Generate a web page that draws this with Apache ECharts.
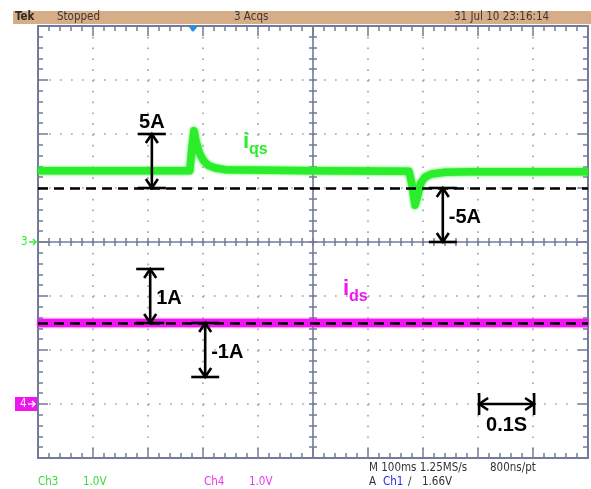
<!DOCTYPE html>
<html>
<head>
<meta charset="utf-8">
<script src="https://cdn.jsdelivr.net/npm/echarts@6/dist/echarts.min.js"></script>
<style>
  html, body { margin: 0; padding: 0; background: #fff; }
  #c { width: 591px; height: 489px; }
</style>
</head>
<body>
<div id="c"></div>
<script>
// ---- Channel 3 : i_qs  (time in s, current in A, 5 A/div, ground at centre) ----
const ch3Time = [0, 0.276, 0.280, 0.2836, 0.287, 0.293, 0.300, 0.309, 0.322, 0.340, 0.500,
                 0.6745, 0.680, 0.6855, 0.691, 0.6964, 0.7036, 0.716, 0.740, 0.785, 1.0];
const ch3Amps = [6.6, 6.6, 8.8, 10.3, 9.4, 8.3, 7.6, 7.1, 6.85, 6.7, 6.6,
                 6.55, 5.3, 3.4, 4.4, 5.5, 6.0, 6.3, 6.45, 6.5, 6.5];

// ---- Channel 4 : i_ds  (1 A/div, ground three divisions below centre) ----
const ch4Time = [0, 1.0];
const ch4Amps = [1.5, 1.5];

// dashed reference levels [A]
const ch3Ref = 5;
const ch4Ref = 1.5;

// dimension arrows: [time s, from A, to A, text]
const ch3Dims = [[0.207, 5, 10, '5A'], [0.736, 5, 0, '-5A']];
const ch4Dims = [[0.204, 1.5, 2.5, '1A'], [0.304, 1.5, 0.5, '-1A']];

// horizontal time-scale bar: [start s, end s, level (Ch3 A), text]
const timeBar = [[0.802, 0.902, -15, '0.1S']];

// trace names: [time s, level A, main, subscript]
const ch3Name = [[0.3727, 8.24, 'i', 'qs']];
const ch4Name = [[0.5545, 1.93, 'i', 'ds']];

// scope settings
const triggerTime = 0.282;
const ch3Ground = 0, ch4Ground = 0;
const statusTexts = ['Tek', 'Stopped', '3 Acqs', '31 Jul 10 23:16:14'];

const FRAME = '#737b9a';
const DOT = '#a0a4b6';
const GREEN = '#2ced2c';
const MAGENTA = '#f014f0';
const UI_FONT = '"DejaVu Sans Condensed", "Liberation Sans Narrow", sans-serif';
const ANNO_FONT = 'bold 20px "Liberation Sans", Arial, sans-serif';

const chart = echarts.init(document.getElementById('c'), null, { renderer: 'canvas' });

function axisParts(opts, dash) {
  return {
    axisLabel: { show: false },
    axisLine: { show: opts.line !== false, onZero: false, lineStyle: { color: FRAME, width: opts.lw || 2 } },
    axisTick: { show: true, inside: opts.inside, length: opts.major, lineStyle: { color: FRAME, width: 1.5 } },
    minorTick: { show: true, splitNumber: 5, length: opts.minor, lineStyle: { color: FRAME, width: 1.5 } },
    splitLine: opts.dots ? { show: true, lineStyle: { color: DOT, width: 1.7, type: dash } } : { show: false },
    minorSplitLine: { show: false }
  };
}
function xAxisDef(opts) {
  return Object.assign({ type: 'value', min: 0, max: 1, interval: 0.1,
    position: opts.position, offset: opts.offset || 0 }, axisParts(opts, [1.7, 9.1]));
}
function yAxisDef(opts) {
  return Object.assign({ type: 'value', min: -20, max: 20, interval: 5,
    position: opts.position, offset: opts.offset || 0 }, axisParts(opts, [1.7, 9.3]));
}

function line(x1, y1, x2, y2) {
  return { type: 'line', shape: { x1, y1, x2, y2 }, style: { stroke: '#000', lineWidth: 2.6 } };
}
function chevron(x, y, dx, dy) {
  // open arrow head with its tip at (x, y), opening along (dx, dy)
  const w = 6, l = 9;
  const pts = dx === 0
    ? [[x - w, y + dy * l], [x, y], [x + w, y + dy * l]]
    : [[x + dx * l, y - w], [x, y], [x + dx * l, y + w]];
  return { type: 'polyline', shape: { points: pts }, style: { stroke: '#000', lineWidth: 2.6, fill: null } };
}

function dimArrowRenderer(items, labelSide) {
  return function (params, api) {
    const d = items[params.dataIndex];
    const p = api.coord([api.value(0), api.value(1)]);
    const q = api.coord([api.value(0), api.value(2)]);
    const x = p[0];
    const dir = q[1] < p[1] ? -1 : 1;
    const half = 14;
    const children = [
      line(x, p[1], x, q[1]),
      line(x - half, p[1], x + half, p[1]),
      line(x - half, q[1], x + half, q[1]),
      chevron(x, q[1], 0, -dir),
      chevron(x, p[1], 0, dir)
    ];
    if (labelSide[params.dataIndex] === 'above') {
      const top = Math.min(p[1], q[1]);
      children.push({ type: 'text', style: { text: d[3], x: x, y: top - 2, font: ANNO_FONT, fill: '#000', align: 'center', verticalAlign: 'bottom' } });
    } else {
      children.push({ type: 'text', style: { text: d[3], x: x + 6, y: (p[1] + q[1]) / 2 + 2, font: ANNO_FONT, fill: '#000', align: 'left', verticalAlign: 'middle' } });
    }
    return { type: 'group', children };
  };
}

function timeBarRenderer(params, api) {
  const d = timeBar[params.dataIndex];
  const a = api.coord([api.value(0), api.value(2)]);
  const b = api.coord([api.value(1), api.value(2)]);
  const y = a[1];
  const half = 11;
  return {
    type: 'group',
    children: [
      line(a[0], y, b[0], y),
      line(a[0], y - half, a[0], y + half),
      line(b[0], y - half, b[0], y + half),
      chevron(a[0], y, 1, 0),
      chevron(b[0], y, -1, 0),
      { type: 'text', style: { text: d[3], x: (a[0] + b[0]) / 2, y: y + 21, font: ANNO_FONT, fill: '#000', align: 'center', verticalAlign: 'middle' } }
    ]
  };
}

function nameRenderer(items, color) {
  return function (params, api) {
    const d = items[params.dataIndex];
    const p = api.coord([api.value(0), api.value(1)]);
    return {
      type: 'group',
      children: [
        { type: 'text', style: { text: d[2], x: p[0], y: p[1], font: 'bold 22px "Liberation Sans", Arial, sans-serif', fill: color, align: 'left', verticalAlign: 'bottom' } },
        { type: 'text', style: { text: d[3], x: p[0] + 6, y: p[1] + 5, font: 'bold 16px "Liberation Sans", Arial, sans-serif', fill: color, align: 'left', verticalAlign: 'bottom' } }
      ]
    };
  };
}

const dashStyle = { color: '#000', width: 2.6, type: [10, 6] };

const option = {
  animation: false,
  backgroundColor: '#fff',
  grid: { left: 38, right: 3, top: 26, bottom: 31, outerBoundsMode: 'none', containLabel: false },
  xAxis: [
    xAxisDef({ position: 'bottom', inside: true, major: 10, minor: 5, dots: true }),
    xAxisDef({ position: 'top', inside: true, major: 10, minor: 5 }),
    xAxisDef({ position: 'bottom', offset: -216, inside: true, major: 4, minor: 4, lw: 1.6 }),
    xAxisDef({ position: 'bottom', offset: -216, inside: false, major: 4, minor: 4, line: false })
  ],
  yAxis: [
    yAxisDef({ position: 'left', inside: true, major: 10, minor: 5, dots: true }),
    yAxisDef({ position: 'right', inside: true, major: 10, minor: 5 }),
    yAxisDef({ position: 'left', offset: -275, inside: true, major: 4, minor: 4, lw: 1.6 }),
    yAxisDef({ position: 'left', offset: -275, inside: false, major: 4, minor: 4, line: false }),
    { type: 'value', min: -1, max: 7, interval: 1, show: false }
  ],
  series: [
    {
      name: 'i_qs', type: 'line', xAxisIndex: 0, yAxisIndex: 0, z: 3,
      data: ch3Time.map((t, i) => [t, ch3Amps[i]]),
      symbol: 'none', smooth: false,
      lineStyle: { color: GREEN, width: 7.5, join: 'round', shadowColor: GREEN, shadowBlur: 3 },
      markLine: { silent: true, symbol: 'none', label: { show: false }, lineStyle: dashStyle, data: [{ yAxis: ch3Ref }] }
    },
    {
      name: 'i_ds', type: 'line', xAxisIndex: 0, yAxisIndex: 4, z: 3,
      data: ch4Time.map((t, i) => [t, ch4Amps[i]]),
      symbol: 'none',
      lineStyle: { color: MAGENTA, width: 8.5, shadowColor: MAGENTA, shadowBlur: 3 },
      markLine: { silent: true, symbol: 'none', label: { show: false }, lineStyle: dashStyle, data: [{ yAxis: ch4Ref }] }
    },
    {
      type: 'custom', xAxisIndex: 0, yAxisIndex: 0, z: 10, silent: true,
      data: ch3Dims.map(d => [d[0], d[1], d[2]]),
      renderItem: dimArrowRenderer(ch3Dims, ['above', 'right'])
    },
    {
      type: 'custom', xAxisIndex: 0, yAxisIndex: 4, z: 10, silent: true,
      data: ch4Dims.map(d => [d[0], d[1], d[2]]),
      renderItem: dimArrowRenderer(ch4Dims, ['right', 'right'])
    },
    {
      type: 'custom', xAxisIndex: 0, yAxisIndex: 0, z: 10, silent: true,
      data: timeBar.map(d => [d[0], d[1], d[2]]),
      renderItem: timeBarRenderer
    },
    {
      type: 'custom', xAxisIndex: 0, yAxisIndex: 0, z: 10, silent: true,
      data: ch3Name.map(d => [d[0], d[1]]),
      renderItem: nameRenderer(ch3Name, GREEN)
    },
    {
      type: 'custom', xAxisIndex: 0, yAxisIndex: 4, z: 10, silent: true,
      data: ch4Name.map(d => [d[0], d[1]]),
      renderItem: nameRenderer(ch4Name, MAGENTA)
    }
  ]
};
chart.setOption(option);

// scope chrome: status bar, channel ground markers, trigger marker, readouts
const y3 = chart.convertToPixel({ yAxisIndex: 0 }, ch3Ground);
const y4 = chart.convertToPixel({ yAxisIndex: 4 }, ch4Ground);
const xTrig = chart.convertToPixel({ xAxisIndex: 0 }, triggerTime);

function uiText(text, x, y, color, weight) {
  return { type: 'text', x, y, z: 100,
    style: { text, font: (weight || '') + ' 11.5px ' + UI_FONT, fill: color, align: 'left', verticalAlign: 'middle' } };
}

chart.setOption({
  graphic: [
    { type: 'rect', shape: { x: 13, y: 11, width: 578, height: 13 }, style: { fill: '#d6ad86' }, z: 90 },
    uiText(statusTexts[0], 15, 17.5, '#2e2a26', 'bold'),
    uiText(statusTexts[1], 57, 17.5, '#3c3732'),
    uiText(statusTexts[2], 234, 17.5, '#3c3732'),
    uiText(statusTexts[3], 454, 17.5, '#3c3732'),
    // trigger position
    { type: 'polygon', z: 100, shape: { points: [[xTrig - 5, 26], [xTrig + 5, 26], [xTrig, 32]] }, style: { fill: '#1f8fe6' } },
    // Ch3 ground marker
    uiText('3', 21, y3, GREEN),
    { type: 'line', z: 100, shape: { x1: 29, y1: y3, x2: 36, y2: y3 }, style: { stroke: GREEN, lineWidth: 1.4 } },
    { type: 'polyline', z: 100, shape: { points: [[33, y3 - 3], [36, y3], [33, y3 + 3]] }, style: { stroke: GREEN, lineWidth: 1.4, fill: null } },
    // Ch4 ground marker
    { type: 'rect', z: 100, shape: { x: 15, y: y4 - 7, width: 22, height: 14 }, style: { fill: MAGENTA } },
    uiText('4', 20, y4, '#fff'),
    { type: 'line', z: 101, shape: { x1: 28, y1: y4, x2: 35, y2: y4 }, style: { stroke: '#fff', lineWidth: 1.4 } },
    { type: 'polyline', z: 101, shape: { points: [[32, y4 - 3], [35, y4], [32, y4 + 3]] }, style: { stroke: '#fff', lineWidth: 1.4, fill: null } },
    // readouts
    uiText('Ch3', 38, 482, '#3ed83e'),
    uiText('1.0V', 83, 482, '#3ed83e'),
    uiText('Ch4', 204, 482, '#e83ae8'),
    uiText('1.0V', 249, 482, '#e83ae8'),
    uiText('M 100ms 1.25MS/s', 369, 468, '#333'),
    uiText('800ns/pt', 490, 468, '#333'),
    uiText('A', 369, 482, '#333'),
    uiText('Ch1', 383, 482, '#2a2ae8'),
    uiText('\u2215', 408, 482, '#333'),
    uiText('1.66V', 422, 482, '#333')
  ]
});
</script>
</body>
</html>
